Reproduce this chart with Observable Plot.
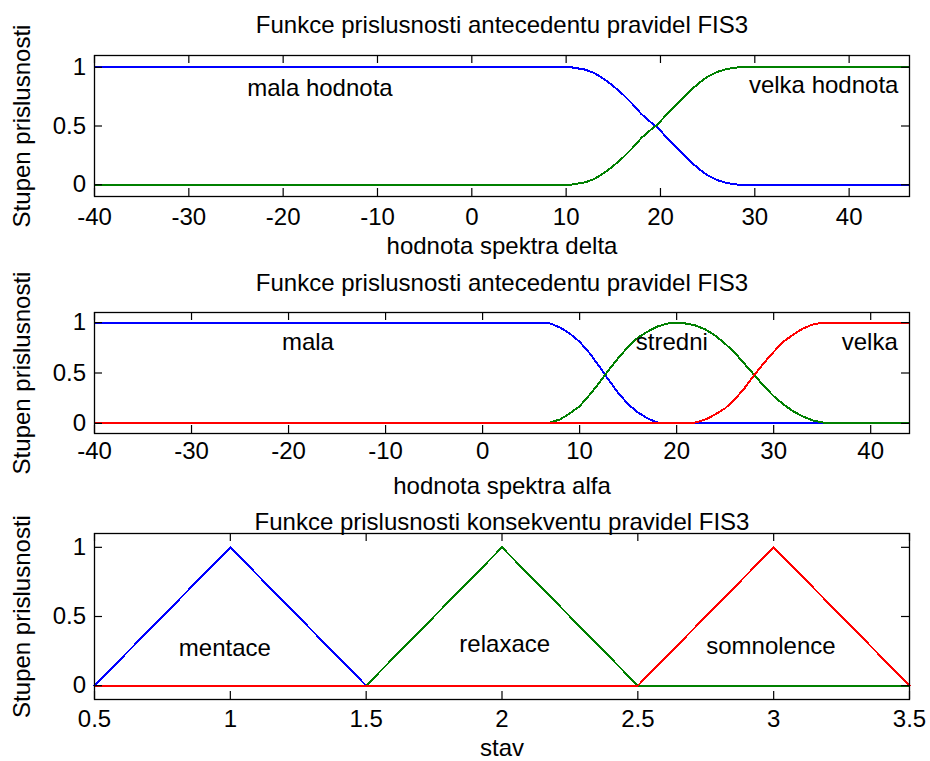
<!DOCTYPE html>
<html><head><meta charset="utf-8">
<script src="https://cdn.jsdelivr.net/npm/d3@7"></script>
<script src="https://cdn.jsdelivr.net/npm/@observablehq/plot@0.6"></script>
<style>
html,body{margin:0;padding:0;background:#fff;}
#chart svg{display:block;}
</style></head><body><div id="chart"></div>
<script>
// ---------- texts ----------
const yLabel = "Stupen prislusnosti";
const titles = [
  "Funkce prislusnosti antecedentu pravidel FIS3",
  "Funkce prislusnosti antecedentu pravidel FIS3",
  "Funkce prislusnosti konsekventu pravidel FIS3"
];
const xLabels = ["hodnota spektra delta", "hodnota spektra alfa", "stav"];

// ---------- panel 1: delta ----------
const deltaX     = [-40, 10.5, 12, 13, 14, 15, 16, 17, 18, 19, 19.5, 20, 21, 22, 23, 24, 25, 26, 27, 28, 28.5, 46.4];
const deltaMala  = [1, 1, 0.98, 0.95, 0.90, 0.84, 0.77, 0.69, 0.60, 0.53, 0.50, 0.46, 0.37, 0.29, 0.21, 0.14, 0.08, 0.04, 0.015, 0.003, 0, 0];
const deltaVelka = [0, 0, 0.02, 0.05, 0.10, 0.16, 0.23, 0.31, 0.40, 0.47, 0.50, 0.54, 0.63, 0.71, 0.79, 0.86, 0.92, 0.96, 0.985, 0.997, 1, 1];
const deltaTicks = [-40, -30, -20, -10, 0, 10, 20, 30, 40];
const deltaDomain = [-40, 46.4];

// ---------- panel 2: alfa ----------
const alfaX       = [-40, 6, 7, 8, 9, 10, 11, 12, 13, 14, 15, 16, 17, 18, 19, 20, 21, 22, 23, 24, 25, 26, 27, 28, 29, 30, 31, 32, 33, 34, 35, 35.5, 44];
const alfaMala    = [1, 1, 0.99, 0.95, 0.89, 0.81, 0.70, 0.57, 0.43, 0.30, 0.19, 0.11, 0.05, 0.01, 0, 0, 0, 0, 0, 0, 0, 0, 0, 0, 0, 0, 0, 0, 0, 0, 0, 0, 0];
const alfaStredni = [0, 0, 0.01, 0.04, 0.10, 0.17, 0.28, 0.40, 0.53, 0.65, 0.76, 0.85, 0.91, 0.96, 0.99, 1, 0.99, 0.97, 0.93, 0.87, 0.79, 0.70, 0.59, 0.48, 0.37, 0.27, 0.19, 0.12, 0.07, 0.03, 0.01, 0, 0];
const alfaVelka   = [0, 0, 0, 0, 0, 0, 0, 0, 0, 0, 0, 0, 0, 0, 0, 0, 0, 0.01, 0.04, 0.09, 0.15, 0.24, 0.35, 0.48, 0.60, 0.71, 0.81, 0.88, 0.94, 0.98, 1, 1, 1];
const alfaTicks = [-40, -30, -20, -10, 0, 10, 20, 30, 40];
const alfaDomain = [-40, 44];

// ---------- panel 3: stav ----------
const stavX       = [0.5, 1, 1.5, 2, 2.5, 3, 3.5];
const mentace     = [0, 1, 0, 0, 0, 0, 0];
const relaxace    = [0, 0, 0, 1, 0, 0, 0];
const somnolence  = [0, 0, 0, 0, 0, 1, 0];
const stavTicks = [0.5, 1, 1.5, 2, 2.5, 3, 3.5];
const stavDomain = [0.5, 3.5];

const yTicks = [0, 0.5, 1];
const yDomain = [-0.1, 1.1];

// in-plot labels [x, y, text]
const labels1 = [[-16.1, 0.82, "mala hodnota"], [37.3, 0.845, "velka hodnota"]];
const labels2 = [[-18.0, 0.80, "mala"], [19.5, 0.805, "stredni"], [39.9, 0.80, "velka"]];
const labels3 = [[0.98, 0.27, "mentace"], [2.01, 0.30, "relaxace"], [2.99, 0.285, "somnolence"]];

const BLUE = "#0000ff", GREEN = "#008000", RED = "#ff0000";
const FONT = "'Liberation Sans', Arial, Helvetica, sans-serif";
const FS = 24;
const W = 930, ML = 94, MR = 21;

function tidy(xs, series) {
  const out = [];
  series.forEach(([name, ys]) => xs.forEach((x, i) => out.push({name, x, y: ys[i]})));
  return out;
}

function panel({height, mt, mb, xDomain, xTicks, series, colors, labels, title, titleDy, xLabel, xLabelDy, tickPad}) {
  const fh = height - mt - mb;
  const fw = W - ML - MR;
  const data = tidy(series.x, series.list);
  const fmt = d => String(d);
  return Plot.plot({
    width: W, height,
    marginLeft: ML, marginRight: MR, marginTop: mt, marginBottom: mb,
    style: {fontFamily: FONT, fontSize: FS + "px", color: "#000", background: "#fff", overflow: "visible"},
    x: {domain: xDomain},
    y: {domain: yDomain},
    color: {domain: series.list.map(d => d[0]), range: colors},
    marks: [
      Plot.line(data, {x: "x", y: "y", z: "name", stroke: "name", strokeWidth: 2, shapeRendering: "crispEdges"}),
      Plot.frame({stroke: "#000", strokeWidth: 1.3}),
      // inward ticks, all four sides
      Plot.ruleX(xTicks, {x: d => d, insetTop: fh - 8, stroke: "#000", strokeWidth: 1.2}),
      Plot.ruleX(xTicks, {x: d => d, insetBottom: fh - 8, stroke: "#000", strokeWidth: 1.2}),
      Plot.ruleY(yTicks, {y: d => d, insetRight: fw - 8, stroke: "#000", strokeWidth: 1.2}),
      Plot.ruleY(yTicks, {y: d => d, insetLeft: fw - 8, stroke: "#000", strokeWidth: 1.2}),
      Plot.axisX(xTicks, {tickSize: 0, tickPadding: tickPad, tickFormat: fmt, fontSize: FS, label: null}),
      Plot.axisY(yTicks, {tickSize: 0, tickPadding: 8.5, tickFormat: fmt, fontSize: FS, label: null}),
      Plot.text(labels, {x: d => d[0], y: d => d[1], text: d => d[2], fontSize: FS, lineAnchor: "middle", fill: "#000"}),
      Plot.text([title], {frameAnchor: "top", dy: titleDy, lineAnchor: "bottom", textAnchor: "middle", fontSize: FS, fill: "#000"}),
      Plot.text([xLabel], {frameAnchor: "bottom", dy: xLabelDy, lineAnchor: "bottom", textAnchor: "middle", fontSize: FS, fill: "#000"}),
      Plot.text([yLabel], {frameAnchor: "left", dx: -65, rotate: -90, lineAnchor: "bottom", textAnchor: "middle", fontSize: FS, fill: "#000"})
    ]
  });
}

const root = document.getElementById("chart");
root.append(panel({
  height: 260, mt: 55, mb: 64,
  xDomain: deltaDomain, xTicks: deltaTicks,
  series: {x: deltaX, list: [["mala hodnota", deltaMala], ["velka hodnota", deltaVelka]]},
  colors: [BLUE, GREEN], labels: labels1,
  title: titles[0], titleDy: -23, xLabel: xLabels[0], xLabelDy: 57, tickPad: 11
}));
root.append(panel({
  height: 240, mt: 52, mb: 67,
  xDomain: alfaDomain, xTicks: alfaTicks,
  series: {x: alfaX, list: [["mala", alfaMala], ["stredni", alfaStredni], ["velka", alfaVelka]]},
  colors: [BLUE, GREEN, RED], labels: labels2,
  title: titles[1], titleDy: -22, xLabel: xLabels[1], xLabelDy: 60, tickPad: 8
}));
root.append(panel({
  height: 261, mt: 33, mb: 62,
  xDomain: stavDomain, xTicks: stavTicks,
  series: {x: stavX, list: [["mentace", mentace], ["relaxace", relaxace], ["somnolence", somnolence]]},
  colors: [BLUE, GREEN, RED], labels: labels3,
  title: titles[2], titleDy: -4, xLabel: xLabels[2], xLabelDy: 56, tickPad: 10
}));
</script>
</body></html>
